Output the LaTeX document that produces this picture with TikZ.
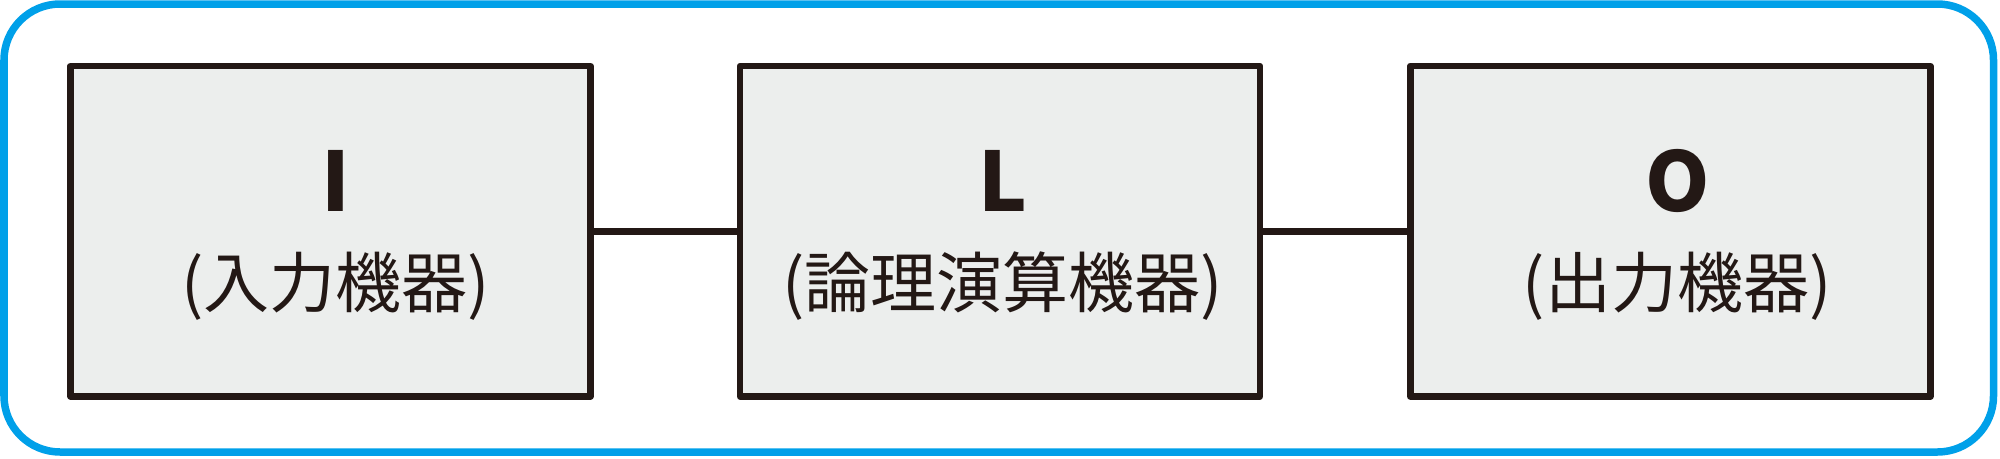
\documentclass[tikz,border=0pt]{standalone}
\usepackage{fontspec}
\newfontfamily\jpfont{Noto Sans CJK JP}
\definecolor{frameblue}{HTML}{00A0E9}
\definecolor{inkline}{HTML}{231815}
\definecolor{boxfill}{HTML}{ECEEED}
\tikzset{
  frame/.style={draw=frameblue, line width=7.5pt, rounded corners=56pt, inner sep=0pt,
    minimum width=1989.5pt, minimum height=448pt},
  unitbox/.style={draw=inkline, fill=boxfill, line width=6.5pt, line join=round, inner sep=0pt,
    minimum width=520pt, minimum height=330.5pt},
  link/.style={draw=inkline, line width=6.5pt},
  title/.style={anchor=base, inner sep=0pt, text=inkline, font=\jpfont\bfseries\fontsize{82}{92}\selectfont},
  subtitle/.style={anchor=base, inner sep=0pt, text=inkline, font=\jpfont\fontsize{66}{76}\selectfont}
}
\begin{document}
\begin{tikzpicture}[x=1pt,y=-1pt]
\useasboundingbox (0,0) rectangle (2000,458);
\node[frame] (frame) at (998.75,228) {};
\node[unitbox] (b1) at (330.5,231.25) {};
\node[unitbox] (b2) at (1000,231.25) {};
\node[unitbox] (b3) at (1670.25,231.25) {};
\draw[link] (b1.east) -- (b2.west);
\draw[link] (b2.east) -- (b3.west);
\node[title] (t1) at (336,211) {I};
\node[title] (t2) at (1003.5,211) {L};
\node[title] (t3) at (1678,211) {O};
\node[subtitle] (s1) at (335.5,307) {(入力機器)};
\node[subtitle] (s2) at (1002.5,307) {(論理演算機器)};
\node[subtitle] (s3) at (1677,307) {(出力機器)};
\end{tikzpicture}
\end{document}
